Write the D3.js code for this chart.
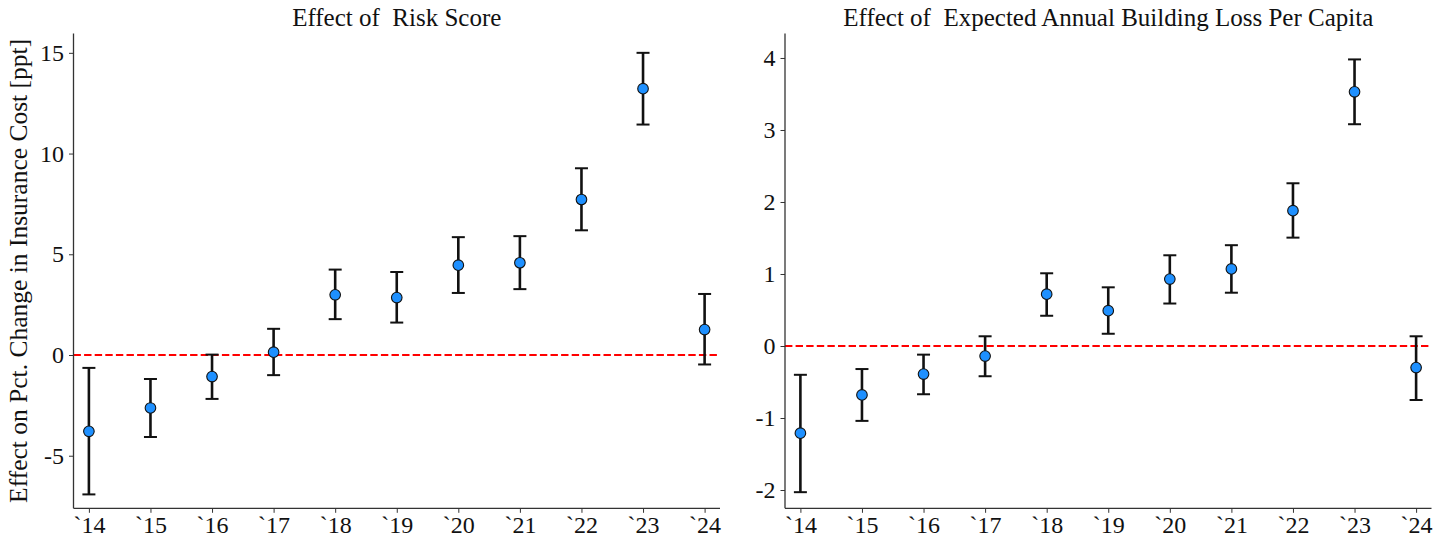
<!DOCTYPE html>
<html>
<head>
<meta charset="utf-8">
<script src="https://cdn.jsdelivr.net/npm/d3@7"></script>
<style>
  html, body { margin: 0; padding: 0; background: #fff; }
  svg { display: block; }
  text { font-family: "Liberation Serif", "DejaVu Serif", serif; fill: #111; }
</style>
</head>
<body>
<svg id="chart" width="1452" height="544"></svg>
<script>
// Event-study years
const years = ["`14", "`15", "`16", "`17", "`18", "`19", "`20", "`21", "`22", "`23", "`24"];

// Effect of risk score (ppt) with 95% CI bounds
const riskEst = [-3.79, -2.63, -1.07, 0.14, 2.99, 2.85, 4.46, 4.58, 7.72, 13.22, 1.26];
const riskLo  = [-6.92, -4.07, -2.18, -1.00, 1.78, 1.61, 3.08, 3.27, 6.19, 11.44, -0.47];
const riskHi  = [-0.64, -1.19, 0.02, 1.30, 4.24, 4.12, 5.85, 5.90, 9.27, 15.00, 3.03];
const riskTicks = [-5, 0, 5, 10, 15];

// Effect of expected annual building loss per capita (ppt) with 95% CI bounds
const lossEst = [-1.21, -0.68, -0.39, -0.14, 0.72, 0.49, 0.93, 1.07, 1.88, 3.53, -0.30];
const lossLo  = [-2.03, -1.04, -0.67, -0.42, 0.42, 0.17, 0.59, 0.74, 1.505, 3.08, -0.75];
const lossHi  = [-0.40, -0.32, -0.12, 0.135, 1.01, 0.815, 1.26, 1.40, 2.26, 3.98, 0.135];
const lossTicks = [-2, -1, 0, 1, 2, 3, 4];

const svg = d3.select("#chart");

const panels = [
  { title: "Effect of  Risk Score", est: riskEst, lo: riskLo, hi: riskHi, ticks: riskTicks,
    domain: [-7.61, 15.96], left: 73.5, right: 720, ylabel: "Effect on Pct. Change in Insurance Cost [ppt]" },
  { title: "Effect of  Expected Annual Building Loss Per Capita", est: lossEst, lo: lossLo, hi: lossHi, ticks: lossTicks,
    domain: [-2.254, 4.34], left: 785, right: 1431.5, ylabel: null }
];

const plotTop = 33.5, plotBottom = 508.3;

panels.forEach(p => {
  const g = svg.append("g");
  const x = d3.scalePoint().domain(years).range([p.left, p.right]).padding(0.25);
  const y = d3.scaleLinear().domain(p.domain).range([plotBottom, plotTop]);

  // zero reference line
  g.append("line")
    .attr("x1", p.left).attr("x2", p.right)
    .attr("y1", y(0)).attr("y2", y(0))
    .attr("stroke", "#ff0000").attr("stroke-width", 2)
    .attr("stroke-dasharray", "7.4,3.2");

  // axes
  const yAxis = d3.axisLeft(y).tickValues(p.ticks).tickSize(4.5).tickPadding(5)
    .tickFormat(d => d < 0 ? "-" + Math.abs(d) : String(d));
  const xAxis = d3.axisBottom(x).tickSize(4.5).tickPadding(3);

  const ya = g.append("g").attr("transform", `translate(${p.left},0)`).call(yAxis);
  const xa = g.append("g").attr("transform", `translate(0,${plotBottom})`).call(xAxis);
  [ya, xa].forEach(a => {
    a.select(".domain").attr("stroke", "#333").attr("stroke-width", 1.3);
    a.selectAll(".tick line").attr("stroke", "#333").attr("stroke-width", 1);
    a.selectAll(".tick text").style("font-size", "24px").attr("fill", "#111");
  });
  ya.select(".domain").attr("d", `M0,${plotTop}V${plotBottom}`);
  xa.select(".domain").attr("d", `M${p.left},0H${p.right}`);

  // error bars
  const idx = d3.range(years.length);
  const eb = g.append("g").selectAll("g").data(idx).join("g");
  eb.append("line")
    .attr("x1", i => x(years[i])).attr("x2", i => x(years[i]))
    .attr("y1", i => y(p.lo[i])).attr("y2", i => y(p.hi[i]))
    .attr("stroke", "#111").attr("stroke-width", 2.6);
  [p.lo, p.hi].forEach(arr => {
    eb.append("line")
      .attr("x1", i => x(years[i]) - 6.5).attr("x2", i => x(years[i]) + 6.5)
      .attr("y1", i => y(arr[i])).attr("y2", i => y(arr[i]))
      .attr("stroke", "#111").attr("stroke-width", 2);
  });

  // point estimates
  g.append("g").selectAll("circle").data(idx).join("circle")
    .attr("cx", i => x(years[i])).attr("cy", i => y(p.est[i]))
    .attr("r", 5.3)
    .attr("fill", "#1e90ff").attr("stroke", "#111").attr("stroke-width", 1.1);

  // title
  g.append("text")
    .attr("x", (p.left + p.right) / 2).attr("y", 26)
    .attr("text-anchor", "middle")
    .style("font-size", "25px").style("white-space", "pre")
    .text(p.title);

  if (p.ylabel) {
    g.append("text")
      .attr("transform", `translate(27,${(plotTop + plotBottom) / 2}) rotate(-90)`)
      .attr("text-anchor", "middle")
      .style("font-size", "25.5px")
      .text(p.ylabel);
  }
});
</script>
</body>
</html>
